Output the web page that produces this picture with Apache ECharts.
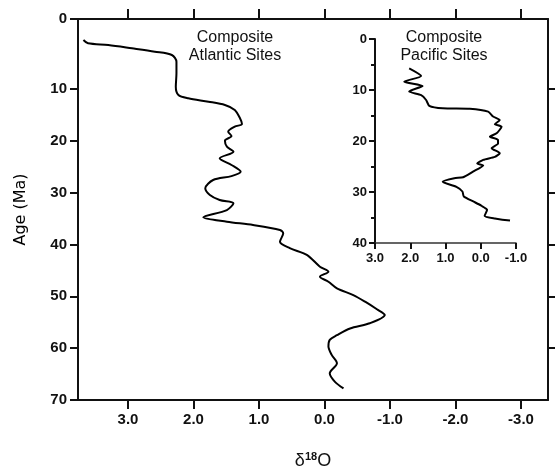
<!DOCTYPE html>
<html>
<head>
<meta charset="utf-8">
<script src="https://cdn.jsdelivr.net/npm/echarts@6/dist/echarts.min.js"></script>
<style>
  html, body { margin: 0; padding: 0; background: #fff; }
  #chart { width: 555px; height: 468px; }
</style>
</head>
<body>
<div id="chart"></div>
<script>
// Composite Atlantic sites: age (Ma) and d18O (per mil)
var atlAge = [0.54, 1.18, 1.5, 2.14, 2.8, 3.44, 4.73, 6.97, 9.56, 11.16, 11.8, 12.45, 13.09, 14.05,
  15.65, 16.75, 17.27, 18.24, 19.07, 19.97, 21.13, 22.1, 23.37, 24.66, 25.96, 26.8, 27.56, 29.16,
  30.45, 31.42, 32.05, 33.35, 34.75, 35.6, 36.24, 37.2, 37.84, 39.46, 40.7, 42.0, 44.28, 45.25,
  46.2, 47.18, 48.46, 49.75, 51.04, 52.5, 53.6, 55.2, 56.2, 57.5, 58.4, 59.7, 61.3, 62.9, 64.85,
  66.5, 67.75];
var atlD18O = [3.68, 3.61, 3.30, 2.94, 2.59, 2.33, 2.26, 2.26, 2.27, 2.23, 2.08, 1.77, 1.52, 1.37,
  1.29, 1.26, 1.37, 1.47, 1.42, 1.52, 1.49, 1.39, 1.60, 1.42, 1.28, 1.42, 1.70, 1.82,
  1.75, 1.60, 1.39, 1.49, 1.85, 1.49, 1.09, 0.68, 0.63, 0.68, 0.53, 0.27, 0.07, -0.06,
  0.07, -0.06, -0.19, -0.44, -0.62, -0.80, -0.92, -0.69, -0.39, -0.19, -0.08, -0.06, -0.11, -0.19, -0.08,
  -0.16, -0.29];

// Composite Pacific sites (inset)
var pacAge = [5.75, 7.25, 8.37, 9.2, 10.3, 11.0, 11.96, 13.1, 13.6, 13.7, 14.25, 15.2, 15.9, 16.7,
  17.2, 18.5, 19.15, 19.8, 20.5, 21.4, 22.4, 23.1, 23.7, 24.4, 24.8, 26.0, 27.1, 27.3, 28.0,
  29.0, 29.9, 30.9, 31.9, 32.7, 33.5, 34.7, 35.2, 35.6];
var pacD18O = [2.03, 1.69, 2.17, 1.65, 2.03, 1.69, 1.55, 1.46, 1.08, 0.31, -0.21, -0.35, -0.54, -0.40,
  -0.59, -0.45, -0.26, -0.49, -0.49, -0.31, -0.54, -0.40, -0.07, 0.10, -0.07, 0.22, 0.50, 0.75, 1.08,
  0.69, 0.52, 0.48, 0.20, -0.02, -0.18, -0.11, -0.40, -0.83];

// tick labels
var mainXTicks = [3, 2, 1, 0, -1, -2, -3];
var mainAgeTicks = [-3.506, 10, 20, 30, 40, 50, 60, 70];
var rightAgeTicks = [10, 20, 30, 40, 50, 60];

var ink = '#111';
var font = 'Liberation Sans, Arial, Helvetica, sans-serif';
var wideFont = 'DejaVu Sans, Verdana, sans-serif';

function pairs(ys, xs) {
    return ys.map(function (y, i) { return [xs[i], y]; });
}

var chart = echarts.init(document.getElementById('chart'));
chart.setOption({
    animation: false,
    backgroundColor: '#fff',
    grid: [
        { left: 78, top: 19, width: 470, height: 381, outerBoundsMode: 'none' },
        { left: 375, top: 39, width: 141, height: 204, outerBoundsMode: 'none' }
    ],
    xAxis: [
        {
            gridIndex: 0, type: 'value', position: 'bottom', inverse: true,
            min: -3.412, max: 3.763,
            name: '{d|δ}{s|18}{d|O}', nameLocation: 'middle', nameGap: 51,
            nameTextStyle: {
                rich: {
                    d: { fontSize: 18, color: ink, fontFamily: font },
                    s: { fontSize: 11, color: ink, fontFamily: font, fontWeight: 'bold', verticalAlign: 'top', padding: [0, 0, 9, 0] }
                }
            },
            axisLine: { onZero: false, lineStyle: { color: ink, width: 2 } },
            axisTick: { customValues: mainXTicks, length: 9, lineStyle: { color: ink, width: 2 } },
            axisLabel: {
                customValues: mainXTicks, margin: 12, color: ink, fontSize: 15, fontFamily: font, fontWeight: 'bold',
                formatter: function (v) { return v.toFixed(1); }
            },
            splitLine: { show: false }
        },
        {
            gridIndex: 0, type: 'value', position: 'top', inverse: true,
            min: -3.412, max: 3.763,
            axisLine: { onZero: false, lineStyle: { color: ink, width: 2 } },
            axisTick: { customValues: mainXTicks, length: 10, lineStyle: { color: ink, width: 2 } },
            axisLabel: { show: false },
            splitLine: { show: false }
        },
        {
            gridIndex: 1, type: 'value', inverse: true, min: -1, max: 3, interval: 1,
            axisLine: { onZero: false, lineStyle: { color: '#333', width: 1.5 } },
            axisTick: { length: 6, lineStyle: { color: ink, width: 2 } },
            axisLabel: {
                margin: 9, color: ink, fontSize: 13, fontFamily: font, fontWeight: 'bold',
                formatter: function (v) { return v.toFixed(1); }
            },
            splitLine: { show: false }
        }
    ],
    yAxis: [
        {
            gridIndex: 0, type: 'value', position: 'left', inverse: true,
            min: -3.506, max: 70,
            name: 'Age (Ma)', nameLocation: 'middle', nameGap: 49, nameRotate: 90,
            nameTextStyle: { color: '#000', fontSize: 16, fontFamily: wideFont },
            axisLine: { onZero: false, lineStyle: { color: ink, width: 2 } },
            axisTick: { customValues: mainAgeTicks, length: 8, lineStyle: { color: ink, width: 2 } },
            axisLabel: {
                customValues: mainAgeTicks, margin: 11, color: ink, fontSize: 15, fontFamily: font, fontWeight: 'bold',
                formatter: function (v) { return v < 1 ? '0' : String(Math.round(v)); }
            },
            splitLine: { show: false }
        },
        {
            gridIndex: 0, type: 'value', position: 'right', inverse: true,
            min: -3.506, max: 70,
            axisLine: { onZero: false, lineStyle: { color: ink, width: 2 } },
            axisTick: { customValues: rightAgeTicks, length: 7, lineStyle: { color: ink, width: 2 } },
            axisLabel: { show: false },
            splitLine: { show: false }
        },
        {
            gridIndex: 1, type: 'value', inverse: true, min: 0, max: 40, interval: 10,
            axisLine: { onZero: false, lineStyle: { color: ink, width: 2 } },
            axisTick: { length: 6, lineStyle: { color: ink, width: 2 } },
            minorTick: { show: true, splitNumber: 2, length: 4, lineStyle: { color: ink, width: 2 } },
            axisLabel: { margin: 8, color: ink, fontSize: 13, fontFamily: font, fontWeight: 'bold' },
            splitLine: { show: false }
        }
    ],
    graphic: [
        { type: 'text', x: 235, y: 30, style: { text: 'Composite', textAlign: 'center', align: 'center', fill: ink, font: '16px ' + font } },
        { type: 'text', x: 235, y: 48, style: { text: 'Atlantic Sites', textAlign: 'center', align: 'center', fill: ink, font: '16px ' + font } },
        { type: 'text', x: 444, y: 30, style: { text: 'Composite', textAlign: 'center', align: 'center', fill: ink, font: '16px ' + font } },
        { type: 'text', x: 444, y: 48, style: { text: 'Pacific Sites', textAlign: 'center', align: 'center', fill: ink, font: '16px ' + font } }
    ],
    series: [
        {
            type: 'line', xAxisIndex: 0, yAxisIndex: 0, data: pairs(atlAge, atlD18O),
            showSymbol: false, smooth: 0.3, lineStyle: { color: '#000', width: 2 }
        },
        {
            type: 'line', xAxisIndex: 2, yAxisIndex: 2, data: pairs(pacAge, pacD18O),
            showSymbol: false, smooth: 0.2, lineStyle: { color: '#000', width: 2 }
        }
    ]
});
</script>
</body>
</html>
